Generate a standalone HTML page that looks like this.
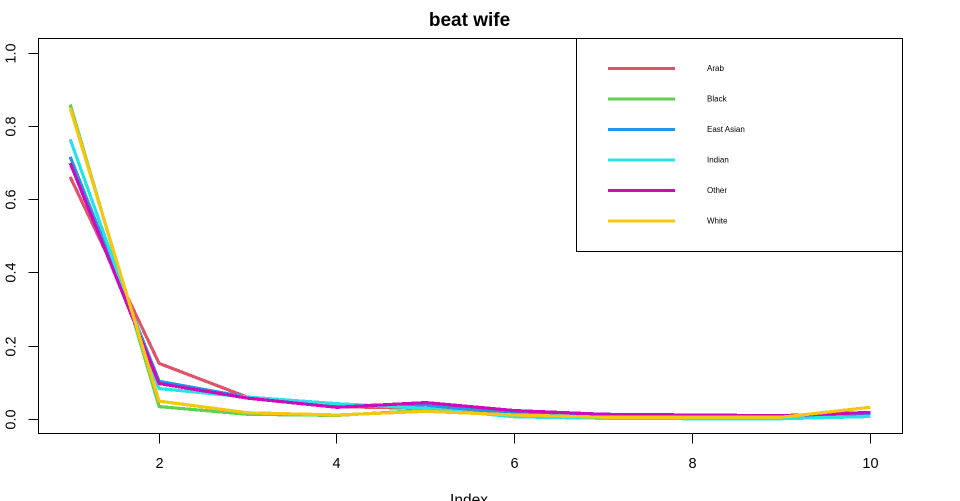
<!DOCTYPE html>
<html>
<head>
<meta charset="utf-8">
<title>beat wife</title>
<style>
html,body{margin:0;padding:0;background:#fff;width:960px;height:501px;overflow:hidden}
svg{display:block}
text{font-family:"Liberation Sans",sans-serif;fill:#000}
</style>
</head>
<body>
<svg id="chart" width="960" height="501" viewBox="0 0 960 501" xmlns="http://www.w3.org/2000/svg">
<rect x="0" y="0" width="960" height="501" fill="#fff"/>
<text x="469.5" y="26" text-anchor="middle" font-size="19" font-weight="bold">beat wife</text>
<text x="469" y="505" text-anchor="middle" font-size="15.5">Index</text>
</svg>
<script>
const indices = [1, 2, 3, 4, 5, 6, 7, 8, 9, 10];
const arab = [0.662, 0.153, 0.060, 0.035, 0.030, 0.020, 0.012, 0.008, 0.005, 0.018];
const black = [0.860, 0.035, 0.014, 0.011, 0.025, 0.010, 0.004, 0.003, 0.004, 0.008];
const eastAsian = [0.717, 0.104, 0.060, 0.038, 0.039, 0.018, 0.012, 0.007, 0.004, 0.015];
const indian = [0.765, 0.084, 0.061, 0.043, 0.030, 0.007, 0.003, 0.002, 0.002, 0.008];
const other = [0.700, 0.098, 0.058, 0.033, 0.046, 0.024, 0.014, 0.012, 0.010, 0.019];
const white = [0.850, 0.050, 0.018, 0.012, 0.022, 0.012, 0.006, 0.006, 0.006, 0.033];
const seriesNames = ['Arab', 'Black', 'East Asian', 'Indian', 'Other', 'White'];
const seriesValues = [arab, black, eastAsian, indian, other, white];
const seriesColors = ['#DF536B', '#61D04F', '#2297E6', '#28E2E5', '#CD0BBC', '#F5C710'];
const xTicks = [2, 4, 6, 8, 10];
const yTicks = [0, 0.2, 0.4, 0.6, 0.8, 1];
const yTickLabels = ['0.0', '0.2', '0.4', '0.6', '0.8', '1.0'];

function xScale(v) { return 70.2 + (v - 1) * 88.9; }
function yScale(v) { return 419.4 - v * 366.2; }

const svg = document.getElementById('chart');
const NS = 'http://www.w3.org/2000/svg';
function make(tag, attrs) {
  const el = document.createElementNS(NS, tag);
  for (const k in attrs) el.setAttribute(k, attrs[k]);
  svg.appendChild(el);
  return el;
}
const snap = v => Math.round(v - 0.5) + 0.5;

seriesValues.forEach((vals, i) => {
  const pts = vals.map((v, j) => xScale(indices[j]).toFixed(1) + ',' + yScale(v).toFixed(1)).join(' ');
  const line = make('polyline', { points: pts, fill: 'none', stroke: seriesColors[i], 'stroke-width': 3.2, 'stroke-linejoin': 'round', 'stroke-linecap': 'butt', 'shape-rendering': 'crispEdges' });
  
  
});

const plotBox = make('rect', { x: 38.5, y: 38.5, width: 864, height: 395, fill: 'none', stroke: '#000', 'stroke-width': 1, 'shape-rendering': 'crispEdges' });



xTicks.forEach(t => {
  const x = snap(xScale(t));
  const tick = make('line', { x1: x, x2: x, y1: 433.5, y2: 443.5, stroke: '#000', 'stroke-width': 1, 'shape-rendering': 'crispEdges' });
  
  
  const label = make('text', { x: x, y: 468, 'text-anchor': 'middle', 'font-size': 14.5 });
  label.textContent = String(t);
  
  
});

yTicks.forEach((t, i) => {
  const y = snap(yScale(t));
  const tick = make('line', { x1: 28.5, x2: 38.5, y1: y, y2: y, stroke: '#000', 'stroke-width': 1, 'shape-rendering': 'crispEdges' });
  
  
  const label = make('text', { x: 15.5, y: y, 'text-anchor': 'middle', 'font-size': 14.5, transform: 'rotate(-90 15.5 ' + y + ')' });
  label.textContent = yTickLabels[i];
  
  
});

const legendBox = make('rect', { x: 576.5, y: 38.5, width: 326, height: 213, fill: '#fff', stroke: '#000', 'stroke-width': 1, 'shape-rendering': 'crispEdges' });



seriesNames.forEach((name, i) => {
  const y = 68.5 + i * 30.5;
  const key = make('line', { x1: 608, x2: 675, y1: y, y2: y, stroke: seriesColors[i], 'stroke-width': 3, 'shape-rendering': 'crispEdges' });
  
  
  const label = make('text', { x: 707, y: y + 2.7, 'font-size': 8 });
  label.textContent = name;
  
  
});
</script>
</body>
</html>
